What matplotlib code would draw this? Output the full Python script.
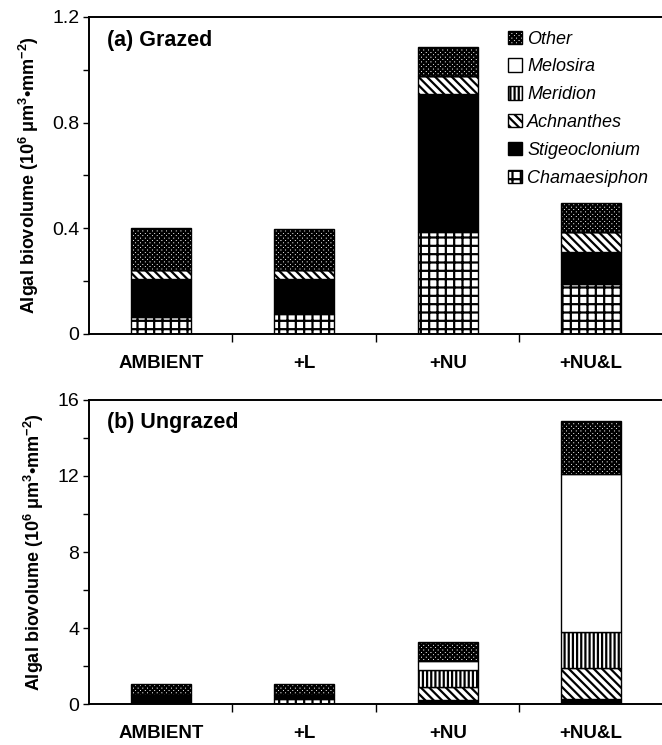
import numpy as np
import matplotlib
matplotlib.use("Agg")
import matplotlib.pyplot as plt
from matplotlib.ticker import MultipleLocator, FixedLocator, NullFormatter

plt.rcParams['font.family'] = ['Liberation Sans', 'DejaVu Sans']
plt.rcParams['mathtext.fontset'] = 'custom'
plt.rcParams['mathtext.rm'] = 'Liberation Sans:bold'
plt.rcParams['mathtext.default'] = 'rm'
plt.rcParams['hatch.linewidth'] = 1.6

# --- data --- #
treatments = ['AMBIENT', '+L', '+NU', '+NU&L']
taxa = ['Chamaesiphon', 'Stigeoclonium', 'Achnanthes', 'Meridion', 'Melosira', 'Other']

# (a) grazed, 10^6 um^3/mm^2
grazed_chamaesiphon = [0.066, 0.076, 0.387, 0.188]
grazed_stigeoclonium = [0.144, 0.134, 0.521, 0.123]
grazed_achnanthes = [0.034, 0.031, 0.070, 0.076]
grazed_meridion = [0.0, 0.0, 0.0, 0.0]
grazed_melosira = [0.0, 0.0, 0.0, 0.0]
grazed_other = [0.156, 0.155, 0.108, 0.108]

# (b) ungrazed
ungrazed_chamaesiphon = [0.05, 0.25, 0.03, 0.05]
ungrazed_stigeoclonium = [0.42, 0.22, 0.17, 0.21]
ungrazed_achnanthes = [0.02, 0.03, 0.72, 1.62]
ungrazed_meridion = [0.0, 0.0, 0.88, 1.93]
ungrazed_melosira = [0.0, 0.0, 0.48, 8.27]
ungrazed_other = [0.55, 0.58, 0.99, 2.81]

# --- styles --- #
styles = {
    'Chamaesiphon': dict(facecolor='white', hatch='++'),
    'Stigeoclonium': dict(facecolor='black', hatch=None),
    'Achnanthes': dict(facecolor='white', hatch='\\' * 4),
    'Meridion': dict(facecolor='white', hatch='||||'),
    'Melosira': dict(facecolor='white', hatch=None),
    'Other': dict(facecolor='white', hatch='xxxxxxx'),
}


def draw_panel(ax, layers, ymax, major, title):
    x = np.arange(len(treatments))
    bottom = np.zeros(len(treatments))
    for name, vals in zip(taxa, layers):
        vals = np.asarray(vals)
        ax.bar(x, vals, 0.42, bottom=bottom, label=name,
               edgecolor='black', linewidth=1.0, **styles[name])
        bottom = bottom + vals

    ax.set_xlim(-0.5, 3.5)
    ax.set_ylim(0, ymax)
    ax.spines['right'].set_visible(False)
    for s in ['left', 'bottom', 'top']:
        ax.spines[s].set_linewidth(1.4)

    ax.yaxis.set_major_locator(MultipleLocator(major))
    ax.yaxis.set_minor_locator(MultipleLocator(major / 2))
    ax.yaxis.set_major_formatter(
        plt.FuncFormatter(lambda v, p: '0' if v == 0 else ('%g' % v)))
    ax.tick_params(axis='y', which='both', direction='out', length=4,
                   width=1.0, labelsize=14, pad=3)

    ax.xaxis.set_major_locator(FixedLocator([0.5, 1.5, 2.5]))
    ax.xaxis.set_major_formatter(NullFormatter())
    ax.xaxis.set_minor_locator(FixedLocator(x))
    ax.set_xticklabels(treatments, minor=True, fontweight='bold', fontsize=13.5)
    ax.tick_params(axis='x', which='major', direction='out', length=6, width=1.0)
    ax.tick_params(axis='x', which='minor', length=0, pad=15)

    ax.set_ylabel('Algal biovolume (10$^{6}$ \u03bcm$^{3}$\u2022mm$^{-2}$)',
                  fontweight='bold', fontsize=13, labelpad=8)
    ax.text(0.032, 0.96, title, transform=ax.transAxes, fontsize=15.5,
            fontweight='bold', va='top', ha='left')


fig = plt.figure(figsize=(6.62, 7.45), dpi=100)
ax1 = fig.add_axes([0.1344, 0.5517, 0.8671, 0.4255])
ax2 = fig.add_axes([0.1344, 0.055, 0.8671, 0.4081])

draw_panel(ax1, [grazed_chamaesiphon, grazed_stigeoclonium, grazed_achnanthes,
                 grazed_meridion, grazed_melosira, grazed_other],
           1.2, 0.4, '(a) Grazed')
draw_panel(ax2, [ungrazed_chamaesiphon, ungrazed_stigeoclonium, ungrazed_achnanthes,
                 ungrazed_meridion, ungrazed_melosira, ungrazed_other],
           16, 4, '(b) Ungrazed')

handles, labels = ax1.get_legend_handles_labels()
ax1.legend(handles[::-1], labels[::-1], loc='upper left',
           bbox_to_anchor=(0.718, 0.98), frameon=False,
           prop={'style': 'italic', 'size': 13},
           handlelength=0.75, handleheight=0.75, handletextpad=0.3,
           labelspacing=0.6, borderaxespad=0)

fig.savefig('out.png', dpi=100)
